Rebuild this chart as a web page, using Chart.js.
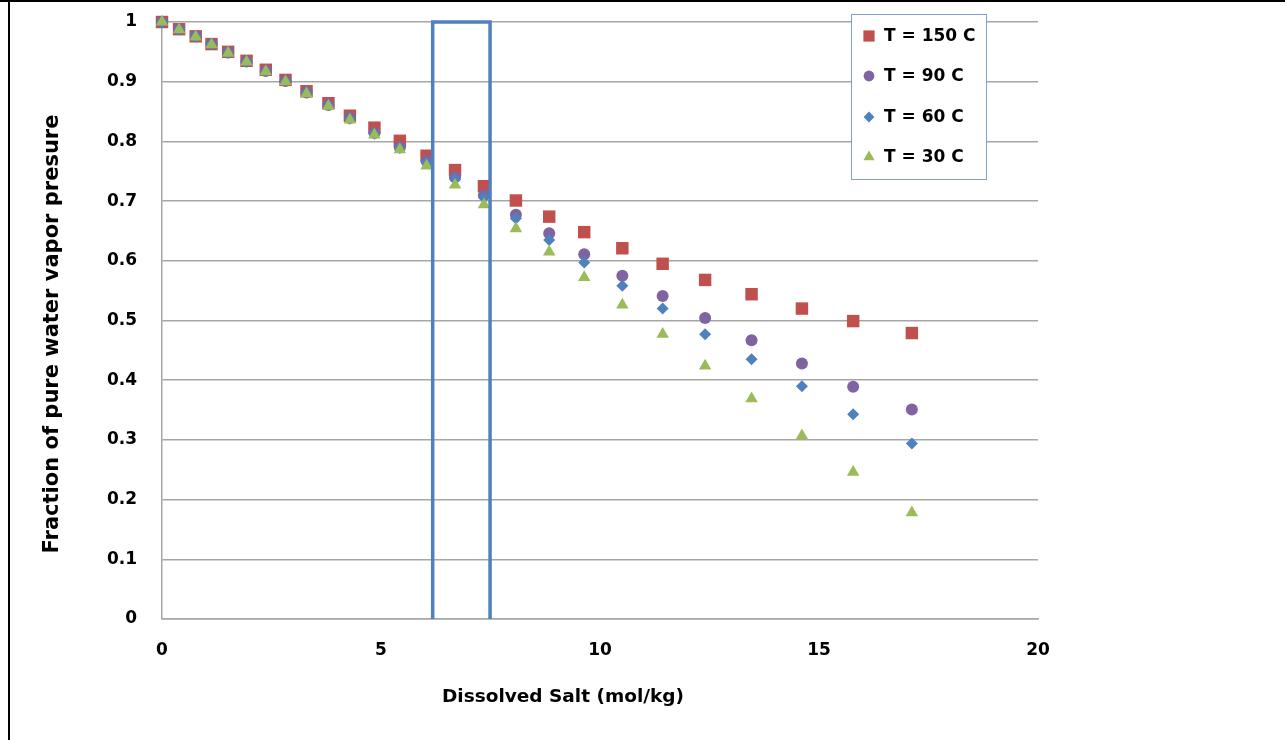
<html>
<body style="margin:0;background:#fff">
<div style="width:1285px;height:740px;">
  <canvas id="myChart" width="1285" height="740"></canvas>
</div>

<script src="https://cdn.jsdelivr.net/npm/chart.js"></script>

<script>
  // dissolved salt (mol/kg) and vapor pressure fraction at each temperature
  const salt = [0, 0.39, 0.77, 1.13, 1.51, 1.93, 2.37, 2.82, 3.30, 3.80, 4.29, 4.85, 5.43,
                6.04, 6.69, 7.35, 8.08, 8.84, 9.64, 10.51, 11.43, 12.40, 13.46, 14.61, 15.78, 17.12];
  const t150 = [1.0, 0.988, 0.976, 0.963, 0.950, 0.935, 0.920, 0.903, 0.884, 0.864, 0.843, 0.823, 0.801,
                0.776, 0.752, 0.725, 0.701, 0.674, 0.648, 0.621, 0.595, 0.568, 0.544, 0.520, 0.499, 0.479];
  const t90  = [1.0, 0.988, 0.976, 0.963, 0.949, 0.934, 0.918, 0.901, 0.882, 0.861, 0.839, 0.814, 0.790,
                0.767, 0.740, 0.710, 0.677, 0.646, 0.611, 0.575, 0.541, 0.504, 0.467, 0.428, 0.389, 0.351];
  const t60  = [1.0, 0.988, 0.976, 0.963, 0.949, 0.934, 0.918, 0.901, 0.882, 0.861, 0.838, 0.813, 0.789,
                0.764, 0.737, 0.706, 0.671, 0.635, 0.597, 0.558, 0.520, 0.477, 0.435, 0.390, 0.343, 0.294];
  const t30  = [1.0, 0.987, 0.975, 0.962, 0.948, 0.933, 0.917, 0.900, 0.880, 0.859, 0.836, 0.811, 0.786,
                0.759, 0.727, 0.694, 0.654, 0.615, 0.572, 0.526, 0.477, 0.424, 0.369, 0.307, 0.246, 0.178];
  const seriesNames = ['T = 150 C', 'T = 90 C', 'T = 60 C', 'T = 30 C'];

  // highlighted salt range (open-bottom box)
  const boxLeft = 6.18;
  const boxRight = 7.49;
  const boxTop = 1;

  const red = '#C0504D', purple = '#8064A2', blue = '#4F81BD', green = '#9BBB59';
  const tickFont = {family: 'DejaVu Sans', weight: 'bold', size: 17};

  function pts(ys) {
    return salt.map((x, i) => ({x: x, y: ys[i]}));
  }

  const styles = [
    {pointStyle: 'rect', radius: 8.8, color: red},
    {pointStyle: 'circle', radius: 6, color: purple},
    {pointStyle: 'rectRot', radius: 6, color: blue},
    {pointStyle: 'triangle', radius: 7.2, color: green}
  ];
  const values = [t150, t90, t60, t30];

  const datasets = values.map((ys, i) => ({
    label: seriesNames[i],
    data: pts(ys),
    pointStyle: styles[i].pointStyle,
    pointRadius: styles[i].radius,
    pointHoverRadius: styles[i].radius,
    backgroundColor: styles[i].color,
    borderColor: styles[i].color,
    pointBorderWidth: 0,
    clip: false,
    order: 4 - i
  }));

  datasets.push({
    type: 'line',
    label: 'range',
    data: [{x: boxLeft, y: 0}, {x: boxLeft, y: boxTop}, {x: boxRight, y: boxTop}, {x: boxRight, y: 0}],
    borderColor: blue,
    borderWidth: 3.5,
    pointRadius: 0,
    fill: false,
    tension: 0,
    clip: false,
    order: 0
  });

  // white page, black frame, axis titles and boxed legend
  const decor = {
    id: 'decor',
    beforeDraw(chart) {
      const ctx = chart.ctx;
      ctx.save();
      ctx.fillStyle = '#fff';
      ctx.fillRect(0, 0, chart.width, chart.height);
      ctx.fillStyle = '#000';
      ctx.fillRect(0, 0, chart.width, 2);
      ctx.fillRect(8, 0, 2, chart.height);
      ctx.restore();
    },
    afterDraw(chart) {
      const ctx = chart.ctx;
      ctx.save();
      ctx.fillStyle = '#000';
      ctx.textAlign = 'center';
      ctx.textBaseline = 'middle';
      ctx.font = 'bold 18.5px "DejaVu Sans"';
      ctx.fillText('Dissolved Salt (mol/kg)', 563, 697);

      ctx.translate(53, 334);
      ctx.rotate(-Math.PI / 2);
      ctx.font = 'bold 21px "DejaVu Sans"';
      ctx.fillText('Fraction of pure water vapor presure', 0, 0);
      ctx.restore();

      // legend
      ctx.save();
      ctx.fillStyle = '#fff';
      ctx.fillRect(851, 14, 135, 165);
      ctx.strokeStyle = '#7FA0CF';
      ctx.lineWidth = 1;
      ctx.strokeRect(851.5, 14.5, 135, 165);
      ctx.font = 'bold 17px "DejaVu Sans"';
      ctx.textAlign = 'left';
      ctx.textBaseline = 'middle';
      const rows = [36, 76, 117, 157];
      styles.forEach((s, i) => {
        ctx.fillStyle = s.color;
        ctx.strokeStyle = s.color;
        Chart.helpers.drawPoint(ctx, {pointStyle: s.pointStyle, radius: s.radius * 0.9, rotation: 0, borderWidth: 0}, 869, rows[i]);
        ctx.fillStyle = '#000';
        ctx.fillText(seriesNames[i], 884, rows[i] + 1);
      });
      ctx.restore();
    }
  };

  const config = {
    type: 'scatter',
    data: {datasets: datasets},
    options: {
      responsive: false,
      animation: false,
      layout: {autoPadding: false, padding: {left: 0, top: 22, right: 247, bottom: 0}},
      plugins: {legend: {display: false}, title: {display: false}, tooltip: {enabled: false}},
      scales: {
        x: {
          type: 'linear',
          min: 0, max: 20,
          ticks: {stepSize: 5, color: '#000', font: tickFont, padding: 21},
          grid: {display: false, drawTicks: false},
          border: {display: true, color: '#a6a6a6', width: 1.5},
          afterFit(scale) {
            scale.height = 121;
            scale.paddingLeft = 0;
            scale.paddingRight = 0;
          }
        },
        y: {
          min: 0, max: 1,
          ticks: {
            stepSize: 0.1, color: '#000', font: tickFont, padding: 25,
            callback: v => String(+v.toFixed(1))
          },
          grid: {color: '#a6a6a6', lineWidth: 1.5, drawTicks: false},
          border: {display: true, color: '#a6a6a6', width: 1.5},
          afterFit(scale) {
            scale.width = 162;
            scale.paddingTop = 0;
            scale.paddingBottom = 0;
          }
        }
      }
    },
    plugins: [decor]
  };

  const myChart = new Chart(document.getElementById('myChart'), config);
</script>

</body>
</html>
